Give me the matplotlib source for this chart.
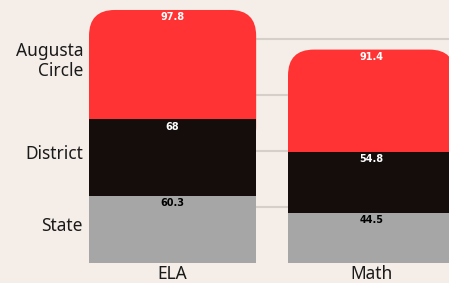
import numpy as np
import matplotlib.pyplot as plt
from matplotlib.patches import FancyBboxPatch

subjects = ["ELA", "Math"]
state = [60.3, 44.5]
district = [68, 54.8]
augusta = [97.8, 91.4]
series_names = ["State", "District", "Augusta\nCircle"]

bg = "#f5eee8"
colors = ["#a6a6a6", "#150d0b", "#ff3333"]
text_colors = ["#000000", "#ffffff", "#ffffff"]

fig = plt.figure(figsize=(4.49, 2.83), dpi=100, facecolor=bg)
ax = fig.add_axes([89 / 449, 20 / 283, 1 - 89 / 449, 263 / 283])
ax.set_facecolor(bg)

x = np.arange(len(subjects))
w = 0.84
series = [state, district, augusta]
bottom = np.zeros(len(subjects))
bottoms = []
for i, vals in enumerate(series):
    bars = ax.bar(x, vals, w, bottom=bottom, color=colors[i], zorder=2)
    bottoms.append(bottom.copy())
    if i == 2:
        # swap the top segment for one with rounded top corners
        for b in bars:
            b.set_visible(False)
            bx, by = b.get_xy()
            ext = 30
            p = FancyBboxPatch((bx, by - ext), b.get_width(), b.get_height() + ext,
                               boxstyle="round,pad=0,rounding_size=0.13",
                               mutation_aspect=178, facecolor=colors[i],
                               edgecolor="none", zorder=1.5)
            ax.add_patch(p)
    for j, v in enumerate(vals):
        ax.text(x[j], bottom[j] + vals[j] - 6.5, f"{v:g}", ha="center", va="center",
                fontsize=7, fontweight="bold", color=text_colors[i], zorder=5)
    bottom = bottom + np.array(vals)

ax.set_xlim(-0.42, 1.389)
ax.set_ylim(0, 235)
ax.set_yticks([50, 100, 150, 200])
ax.yaxis.grid(True, color="#d6cec9", linewidth=1.5, zorder=0)
ax.set_axisbelow(True)
ax.tick_params(left=False, labelleft=False, bottom=False)
ax.set_xticks(x)
ax.set_xticklabels(subjects, fontsize=12.5, family="Noto Sans", color="#1a1a1a")
ax.tick_params(axis="x", pad=-2)
for s in ax.spines.values():
    s.set_visible(False)

# category labels next to the ELA segments
mids = [bottoms[i][0] + series[i][0] / 2 for i in range(3)]
for name, m in zip(series_names, mids):
    ax.text(-0.45, m + 3, name, ha="right", va="center", fontsize=12.5,
            family="Noto Sans", color="#1a1a1a", linespacing=1.15,
            transform=ax.transData, clip_on=False)

fig.savefig("out.png", dpi=100, facecolor=bg)
